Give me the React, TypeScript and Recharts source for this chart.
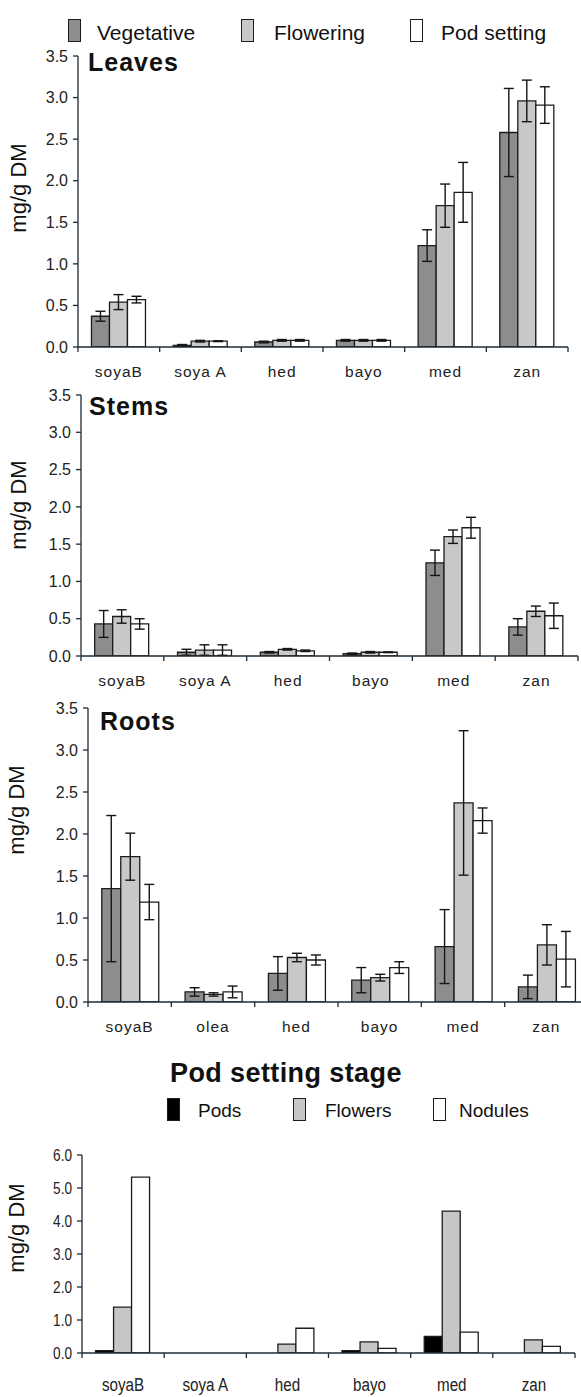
import React from "react";
import { BarChart, Bar, XAxis, YAxis, ErrorBar } from "recharts";

const FONT = "'Liberation Sans', Arial, sans-serif";
const AXIS = "#1d2b36";
const EDGE = "#1c1c1c";

const stageNames = ["Vegetative", "Flowering", "Pod setting"];
const stageColors = ["#8d8d8d", "#c8c8c8", "#ffffff"];
const organNames = ["Pods", "Flowers", "Nodules"];
const organColors = ["#000000", "#c6c6c6", "#ffffff"];

const cats = ["soyaB", "soya A", "hed", "bayo", "med", "zan"];
const rootCats = ["soyaB", "olea", "hed", "bayo", "med", "zan"];
const yTicks35 = [0, 0.5, 1, 1.5, 2, 2.5, 3, 3.5];
const yTicks6 = [0, 1, 2, 3, 4, 5, 6];

// Leaves
const leavesVeg = [0.37, 0.02, 0.06, 0.08, 1.22, 2.58];
const leavesVegErr = [0.06, 0.01, 0.01, 0.01, 0.19, 0.53];
const leavesFlo = [0.54, 0.07, 0.08, 0.08, 1.7, 2.96];
const leavesFloErr = [0.09, 0.01, 0.01, 0.01, 0.26, 0.25];
const leavesPod = [0.57, 0.07, 0.08, 0.08, 1.86, 2.91];
const leavesPodErr = [0.04, 0.005, 0.01, 0.01, 0.36, 0.22];

// Stems
const stemsVeg = [0.43, 0.05, 0.05, 0.03, 1.25, 0.39];
const stemsVegErr = [0.18, 0.04, 0.01, 0.01, 0.17, 0.11];
const stemsFlo = [0.53, 0.08, 0.09, 0.05, 1.6, 0.6];
const stemsFloErr = [0.09, 0.07, 0.01, 0.01, 0.09, 0.07];
const stemsPod = [0.43, 0.08, 0.07, 0.05, 1.72, 0.54];
const stemsPodErr = [0.07, 0.07, 0.01, 0.005, 0.14, 0.17];

// Roots
const rootsVeg = [1.35, 0.12, 0.34, 0.26, 0.66, 0.18];
const rootsVegErr = [0.87, 0.05, 0.2, 0.15, 0.44, 0.14];
const rootsFlo = [1.73, 0.09, 0.53, 0.29, 2.37, 0.68];
const rootsFloErr = [0.28, 0.02, 0.05, 0.04, 0.86, 0.24];
const rootsPod = [1.19, 0.12, 0.5, 0.41, 2.16, 0.51];
const rootsPodErr = [0.21, 0.07, 0.06, 0.07, 0.15, 0.33];

// Pod setting stage
const pods = [0.07, 0, 0, 0.07, 0.5, 0];
const flowers = [1.39, 0, 0.27, 0.34, 4.3, 0.4];
const nodules = [5.33, 0, 0.75, 0.14, 0.63, 0.2];

const rows = (names, a, ae, b, be, c, ce) =>
  names.map((name, i) => ({
    name,
    a: a[i],
    ae: ae ? ae[i] : 0,
    b: b[i],
    be: be ? be[i] : 0,
    c: c[i],
    ce: ce ? ce[i] : 0,
  }));

const leavesData = rows(cats, leavesVeg, leavesVegErr, leavesFlo, leavesFloErr, leavesPod, leavesPodErr);
const stemsData = rows(cats, stemsVeg, stemsVegErr, stemsFlo, stemsFloErr, stemsPod, stemsPodErr);
const rootsData = rows(rootCats, rootsVeg, rootsVegErr, rootsFlo, rootsFloErr, rootsPod, rootsPodErr);
const podData = rows(cats, pods, null, flowers, null, nodules, null);

// category tick: label at band centre, small tick marks at the band edges
function CatTick(props) {
  const { x, y, payload, index, visibleTicksCount, narrow, gap } = props;
  const half = payload.offset || 0;
  const axisY = y - gap;
  const last = index === visibleTicksCount - 1;
  return (
    <g>
      <line x1={x - half} x2={x - half} y1={axisY} y2={axisY + 5} stroke={AXIS} strokeWidth={1.3} />
      {last && <line x1={x + half} x2={x + half} y1={axisY} y2={axisY + 5} stroke={AXIS} strokeWidth={1.3} />}
      <text
        x={0}
        y={0}
        dy="0.71em"
        textAnchor="middle"
        fill="#222"
        fontFamily={FONT}
        fontSize={narrow ? 19 : 15.5}
        letterSpacing={narrow ? 0 : 1}
        transform={`translate(${x},${y}) scale(${narrow ? 0.8 : 1},1)`}
      >
        {payload.value}
      </text>
    </g>
  );
}

function NumTick(props) {
  const { x, y, payload, narrow } = props;
  return (
    <text
      x={0}
      y={0}
      dy="0.355em"
      textAnchor="end"
      fill="#222"
      fontFamily={FONT}
      fontSize={narrow ? 17 : 16}
      transform={`translate(${x},${y}) scale(${narrow ? 0.8 : 1},1)`}
    >
      {payload.value.toFixed(1)}
    </text>
  );
}

function Panel({ data, top, width, height, yWidth, mTop, mRight, yMax, ticks, colors, errors, narrow }) {
  const gap = narrow ? 25 : 19;
  return (
    <div style={{ position: "absolute", left: 0, top }}>
      <BarChart
        width={width}
        height={height}
        data={data}
        margin={{ top: mTop, right: mRight, bottom: 5, left: 0 }}
        barCategoryGap="16.5%"
        barGap={0}
      >
        <XAxis
          dataKey="name"
          type="category"
          stroke={AXIS}
          strokeWidth={1.3}
          tickLine={false}
          tickSize={0}
          tickMargin={gap}
          interval={0}
          height={narrow ? 45 : 30}
          tick={<CatTick narrow={narrow} gap={gap} />}
        />
        <YAxis
          domain={[0, yMax]}
          ticks={ticks}
          width={yWidth}
          tickSize={5}
          tickMargin={5}
          stroke={AXIS}
          strokeWidth={1.3}
          tick={<NumTick narrow={narrow} />}
          allowDataOverflow
        />
        {["a", "b", "c"].map((k, i) => (
          <Bar key={k} dataKey={k} fill={colors[i]} stroke={EDGE} strokeWidth={1.3} isAnimationActive={false}>
            {errors && <ErrorBar dataKey={k + "e"} width={5} stroke="#151515" strokeWidth={1.4} />}
          </Bar>
        ))}
      </BarChart>
    </div>
  );
}

function Swatch({ color, x, y }) {
  return (
    <div
      style={{
        position: "absolute",
        left: x,
        top: y,
        width: 13,
        height: 23,
        background: color,
        border: `1.5px solid ${EDGE}`,
        boxSizing: "border-box",
      }}
    />
  );
}

function Text({ x, y, size, bold, children, spacing }) {
  return (
    <div
      style={{
        position: "absolute",
        left: x,
        top: y,
        fontSize: size,
        fontWeight: bold ? 700 : 400,
        fontFamily: FONT,
        color: "#111",
        whiteSpace: "nowrap",
        lineHeight: 1,
        letterSpacing: spacing || 0,
      }}
    >
      {children}
    </div>
  );
}

function YLabel({ cx, cy }) {
  return (
    <div
      style={{
        position: "absolute",
        left: cx - 70,
        top: cy - 12,
        width: 140,
        height: 24,
        lineHeight: "24px",
        textAlign: "center",
        fontSize: 22,
        fontFamily: FONT,
        color: "#111",
        transform: "rotate(-90deg)",
      }}
    >
      mg/g DM
    </div>
  );
}

export default function App() {
  const topLegendX = [68, 241, 410];
  const topTextX = [97, 274, 441];
  const podLegendX = [167, 293, 433];
  const podTextX = [198, 325, 459];
  return (
    <div
      style={{
        position: "absolute",
        left: 0,
        top: 0,
        width: 581,
        height: 1397,
        overflow: "hidden",
        background: "#fff",
        fontFamily: FONT,
      }}
    >
      {stageNames.map((n, i) => (
        <React.Fragment key={n}>
          <Swatch color={stageColors[i]} x={topLegendX[i]} y={19} />
          <Text x={topTextX[i]} y={22} size={21}>
            {n}
          </Text>
        </React.Fragment>
      ))}

      <Panel data={leavesData} top={0} width={581} height={382} yWidth={78} mTop={56} mRight={13} yMax={3.5} ticks={yTicks35} colors={stageColors} errors />
      <Text x={88} y={50} size={25} bold spacing={1}>Leaves</Text>
      <YLabel cx={19} cy={188} />

      <Panel data={stemsData} top={380} width={581} height={311} yWidth={81} mTop={15} mRight={3} yMax={3.5} ticks={yTicks35} colors={stageColors} errors />
      <Text x={89} y={394} size={25} bold spacing={1}>Stems</Text>
      <YLabel cx={19} cy={505} />

      <Panel data={rootsData} top={690} width={600} height={347} yWidth={88} mTop={18} mRight={12} yMax={3.5} ticks={yTicks35} colors={stageColors} errors />
      <Text x={100} y={709} size={25} bold spacing={1}>Roots</Text>
      <YLabel cx={17} cy={810} />

      <Text x={170} y={1060} size={27} bold spacing={0.4}>Pod setting stage</Text>
      {organNames.map((n, i) => (
        <React.Fragment key={n}>
          <Swatch color={organColors[i]} x={podLegendX[i]} y={1098} />
          <Text x={podTextX[i]} y={1101} size={19}>
            {n}
          </Text>
        </React.Fragment>
      ))}

      <Panel data={podData} top={1140} width={581} height={263} yWidth={82} mTop={15} mRight={6} yMax={6} ticks={yTicks6} colors={organColors} narrow />
      <YLabel cx={17} cy={1228} />
    </div>
  );
}
